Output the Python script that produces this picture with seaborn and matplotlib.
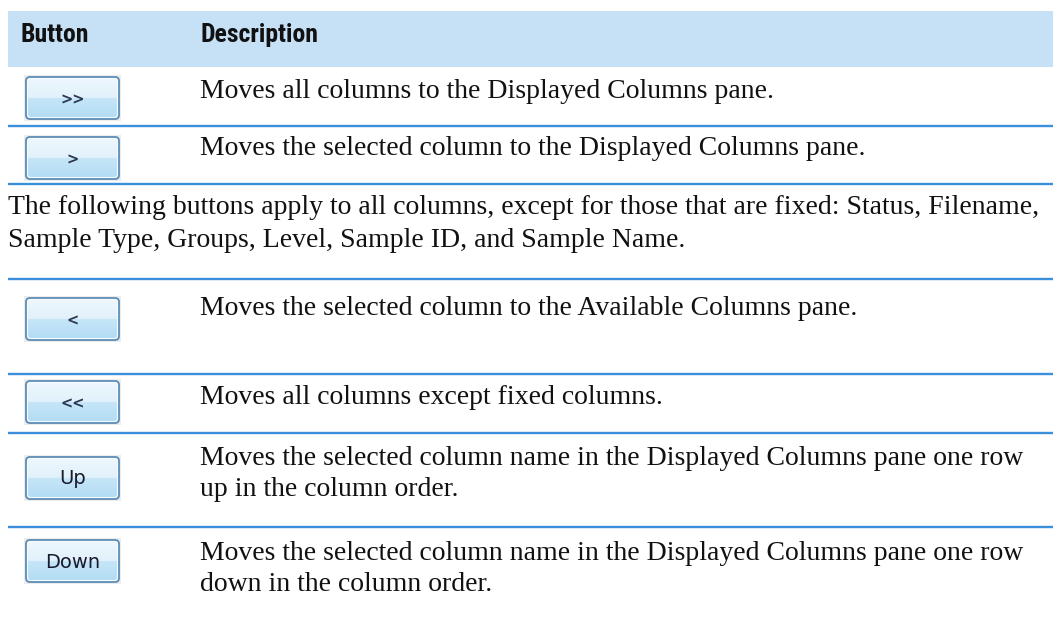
import numpy as np
import matplotlib.pyplot as plt
import seaborn as sns
from matplotlib.patches import Rectangle, FancyBboxPatch
from matplotlib.colors import to_rgb
from matplotlib import font_manager

sns.set_theme(style="white")
plt.rcParams['font.family'] = ['Liberation Serif', 'DejaVu Serif']

# 表格内容
headers = ['Button', 'Description']
buttons = ['>>', '>', None, '<', '<<', 'Up', 'Down']
descriptions = [
    ['Moves all columns to the Displayed Columns pane.'],
    ['Moves the selected column to the Displayed Columns pane.'],
    ['The following buttons apply to all columns, except for those that are fixed: Status, Filename,',
     'Sample Type, Groups, Level, Sample ID, and Sample Name.'],
    ['Moves the selected column to the Available Columns pane.'],
    ['Moves all columns except fixed columns.'],
    ['Moves the selected column name in the Displayed Columns pane one row',
     'up in the column order.'],
    ['Moves the selected column name in the Displayed Columns pane one row',
     'down in the column order.'],
]

# 版面 (像素)
W, H = 1053, 617
row_lines = [126, 184, 279, 374, 433, 527]
baselines = [[98], [155], [214, 247], [315], [404], [465, 496], [560, 591]]
button_tops = [77, 137, None, 298, 381, 457, 540]
btn_x0, btn_w, btn_h = 26, 93, 42
line_color = '#3b8fdb'
header_color = '#c6e0f5'

# 找一个窄体字体做表头
installed = {f.name for f in font_manager.fontManager.ttflist}
narrow = [f for f in ['Liberation Sans Narrow', 'DejaVu Sans Condensed', 'Roboto Condensed']
          if f in installed]
head_family = narrow[0] if narrow else 'Roboto'

fig = plt.figure(figsize=(W / 100, H / 100), dpi=100)
ax = fig.add_axes([0, 0, 1, 1])
ax.set_axis_off()

# 表头
ax.add_patch(Rectangle((8, 11), W - 8, 56, facecolor=header_color, edgecolor='none'))
for name, x in zip(headers, [20, 200]):
    ax.text(x, 42, name, fontsize=18.5 if narrow else 16, fontweight='bold', va='baseline',
            ha='left', family=[head_family, 'DejaVu Sans'], color='#111111',
            fontstretch='condensed')

# 分隔线
for y in row_lines:
    ax.plot([8, W], [y, y], color=line_color, lw=1.7, solid_capstyle='butt')

# 按钮渐变
top_a, top_b = np.array(to_rgb('#eef7fd')), np.array(to_rgb('#e1f1fb'))
bot_a, bot_b = np.array(to_rgb('#c6e6f8')), np.array(to_rgb('#b1dbf4'))
grad = []
for i in range(40):
    t = i / 39
    if t < 0.5:
        grad.append(top_a + (top_b - top_a) * t * 2)
    else:
        grad.append(bot_a + (bot_b - bot_a) * (t - 0.5) * 2)
grad = np.array(grad)[:, None, :]

for label, top in zip(buttons, button_tops):
    if label is None:
        continue
    ax.add_patch(Rectangle((btn_x0 - 2, top - 2), btn_w + 4, btn_h + 4,
                           facecolor='#ececec', edgecolor='none'))
    box = FancyBboxPatch((btn_x0, top), btn_w, btn_h,
                         boxstyle='round,pad=0,rounding_size=4',
                         facecolor='none', edgecolor='#5b8cb6', lw=1.3, zorder=3)
    ax.add_patch(box)
    img = ax.imshow(grad, extent=[btn_x0, btn_x0 + btn_w, top + btn_h, top],
                    aspect='auto', zorder=2, interpolation='bilinear')
    img.set_clip_path(box)
    inner = FancyBboxPatch((btn_x0 + 1.5, top + 1.5), btn_w - 3, btn_h - 3,
                           boxstyle='round,pad=0,rounding_size=3',
                           facecolor='none', edgecolor='#f4fbff', lw=0.8, zorder=3)
    ax.add_patch(inner)
    if label in ('Up', 'Down'):
        ax.text(btn_x0 + btn_w / 2, top + btn_h / 2 + 1, label, fontsize=14,
                ha='center', va='center', family='DejaVu Sans', color='#1a1a2e', zorder=4)
    else:
        ax.text(btn_x0 + btn_w / 2, top + btn_h / 2 + 2, label, fontsize=10.5,
                ha='center', va='center', family='DejaVu Sans', color='#2b3550',
                fontweight='bold', zorder=4)

# 描述文字
for lines, bl, label in zip(descriptions, baselines, buttons):
    x = 8 if label is None else 200
    for txt, y in zip(lines, bl):
        ax.text(x, y, txt, fontsize=20, va='baseline', ha='left', color='#111111')

ax.set_xlim(0, W)
ax.set_ylim(H, 0)
fig.savefig('out.png', dpi=100, facecolor='white')
